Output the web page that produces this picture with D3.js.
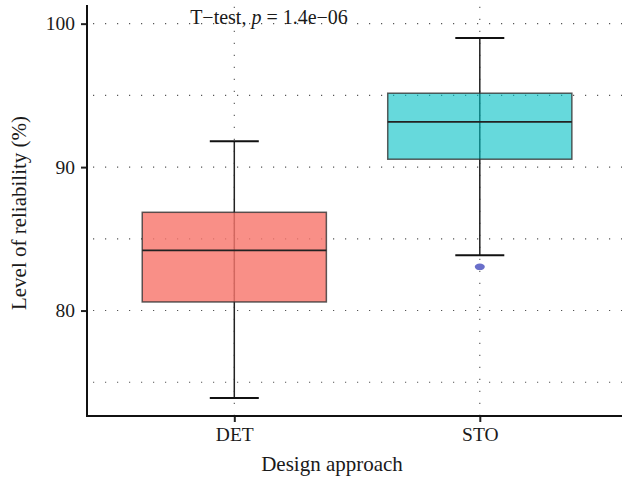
<!DOCTYPE html>
<html><head><meta charset="utf-8">
<script src="https://cdn.jsdelivr.net/npm/d3@7"></script>
<style>body{margin:0;background:#fff}</style>
</head><body><svg id="c" width="622" height="479"></svg>
<script>
const categories = ["DET", "STO"];
const q1 = [80.6, 90.55];
const median = [84.2, 93.15];
const q3 = [86.85, 95.15];
const whiskerLow = [73.9, 83.85];
const whiskerHigh = [91.8, 99.0];
const outliers = [[], [83.05]];
const colors = ["#F8766D", "#00BFC4"];
const yTicks = [80, 90, 100];
const yGrid = [75, 80, 85, 90, 95, 100];

const FONT = "'Liberation Serif', 'Times New Roman', 'DejaVu Serif', serif";
const svg = d3.select("#c");
const L = 87, R = 627, T = 5, B = 416;
const y = d3.scaleLinear().domain([72.65, 101.3]).range([B, T]);
const xc = d3.scalePoint().domain(categories).range([L + 0.6 * 245.5, L + 1.6 * 245.5]);
const bw = 0.75 * 245.5;

const g = svg.append("g");
g.selectAll("line.h").data(yGrid).join("line")
  .attr("x1", L + 6).attr("x2", 622).attr("y1", d => y(d)).attr("y2", d => y(d))
  .attr("stroke", "#555").attr("stroke-width", 1.1).attr("stroke-dasharray", "1.2,10.8");
g.selectAll("line.v").data(categories).join("line")
  .attr("x1", d => xc(d)).attr("x2", d => xc(d)).attr("y1", B).attr("y2", T)
  .attr("stroke", "#555").attr("stroke-width", 1.1).attr("stroke-dasharray", "1.2,10.8");

const bx = svg.append("g");
categories.forEach((c, i) => {
  const cx = xc(c);
  bx.append("line").attr("x1", cx).attr("x2", cx).attr("y1", y(whiskerLow[i])).attr("y2", y(whiskerHigh[i]))
    .attr("stroke", "#222").attr("stroke-width", 1.5);
  [whiskerLow[i], whiskerHigh[i]].forEach(v => {
    bx.append("line").attr("x1", cx - 24.5).attr("x2", cx + 24.5).attr("y1", y(v)).attr("y2", y(v))
      .attr("stroke", "#111").attr("stroke-width", 2);
  });
  bx.append("rect").attr("x", cx - bw / 2).attr("width", bw)
    .attr("y", y(q3[i])).attr("height", y(q1[i]) - y(q3[i]))
    .attr("fill", colors[i]).attr("fill-opacity", i === 0 ? 0.82 : 0.6)
    .attr("stroke", "#333").attr("stroke-opacity", 0.8).attr("stroke-width", 1.5);
  bx.append("line").attr("x1", cx - bw / 2).attr("x2", cx + bw / 2).attr("y1", y(median[i])).attr("y2", y(median[i]))
    .attr("stroke", "#222").attr("stroke-width", 1.8);
  outliers[i].forEach(v => {
    bx.append("ellipse").attr("cx", cx).attr("cy", y(v)).attr("rx", 5).attr("ry", 3.3)
      .attr("fill", "#5a5fc4").attr("fill-opacity", 0.9);
  });
});

const yAxis = d3.axisLeft(y).tickValues(yTicks).tickSize(6).tickPadding(6);
const ya = svg.append("g").attr("transform", `translate(${L},0)`).call(yAxis);
const xAxis = d3.axisBottom(xc).tickSize(6).tickPadding(5);
const xa = svg.append("g").attr("transform", `translate(0,${B})`).call(xAxis);
[ya, xa].forEach(a => {
  a.attr("font-family", FONT).attr("font-size", 19.5);
  a.select(".domain").remove();
  a.selectAll(".tick line").attr("stroke", "#222").attr("stroke-width", 2);
  a.selectAll(".tick text").style("font-family", FONT).style("font-size", "19.5px").attr("fill", "#1a1a1a");
});
svg.append("line").attr("x1", L).attr("x2", L).attr("y1", T).attr("y2", B + 1).attr("stroke", "#111").attr("stroke-width", 2);
svg.append("line").attr("x1", L - 1).attr("x2", 622).attr("y1", B).attr("y2", B).attr("stroke", "#111").attr("stroke-width", 2);

function txt(sel) { return sel.style("font-family", FONT).attr("fill", "#1a1a1a"); }
txt(svg.append("text")).attr("transform", "translate(26,213) rotate(-90)").attr("text-anchor", "middle")
  .style("font-size", "21px").text("Level of reliability (%)");
txt(svg.append("text")).attr("x", 332).attr("y", 471).attr("text-anchor", "middle")
  .style("font-size", "21px").text("Design approach");
const t = txt(svg.append("text")).attr("x", 269).attr("y", 24).attr("text-anchor", "middle").style("font-size", "20px");
t.append("tspan").text("T\u2212test, ");
t.append("tspan").attr("font-style", "italic").text("p");
t.append("tspan").text(" = 1.4e\u221206");
</script></body></html>
